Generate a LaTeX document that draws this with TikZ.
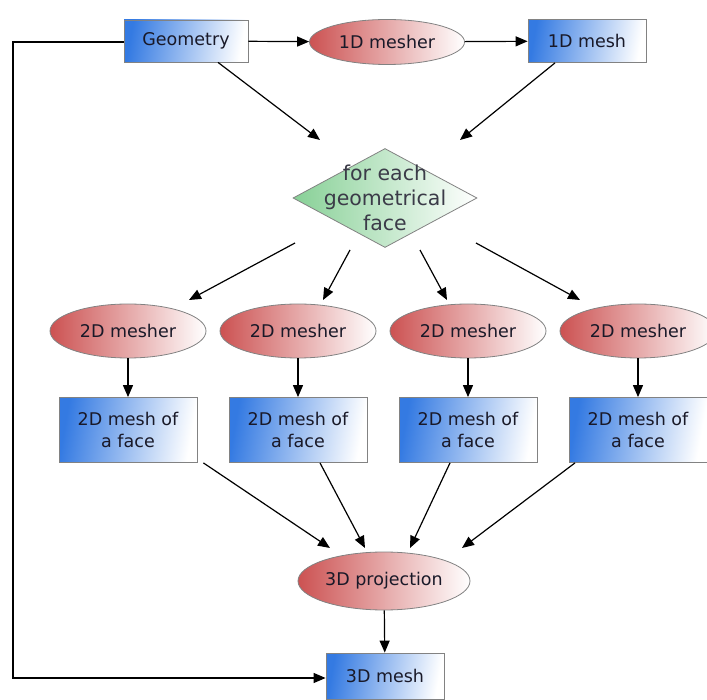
\documentclass[tikz,border=0pt]{standalone}
\usepackage{fontspec}
\setmainfont{DejaVu Sans}
\usetikzlibrary{shapes.geometric,arrows.meta}
\definecolor{boxblue}{RGB}{52,122,226}
\definecolor{ovalred}{RGB}{204,82,82}
\definecolor{diagreen}{RGB}{135,208,150}
\definecolor{edgegray}{RGB}{130,130,130}
\definecolor{ink}{RGB}{25,25,40}
\tikzset{
  databox/.style={rectangle, draw=edgegray, line width=0.8pt,
    left color=boxblue, right color=white, shading angle=80,
    text=ink, font=\fontsize{17.5}{22}\selectfont, align=center,
    inner sep=0pt},
  procoval/.style={ellipse, draw=edgegray, line width=0.8pt,
    left color=ovalred, right color=white,
    text=ink, font=\fontsize{17.5}{22}\selectfont, inner sep=0pt},
  loopbox/.style={diamond, draw=edgegray, line width=0.8pt,
    left color=diagreen, right color=white,
    inner sep=0pt, minimum width=184pt, minimum height=99pt, aspect=1.86},
  looptext/.style={text=ink!85, font=\fontsize{20.5}{25}\selectfont, align=center},
  flow/.style={line width=1.2pt, -{Triangle[length=12pt,width=10pt]}}
}
\begin{document}
\begin{tikzpicture}[x=1pt,y=-1pt]
\useasboundingbox (0,0) rectangle (707,700);

% top row
\node[databox, minimum width=124pt, minimum height=42pt] (geo) at (186,41) {Geometry};
\node[procoval, minimum width=155pt, minimum height=45pt] (m1d) at (387,42) {1D mesher};
\node[databox, minimum width=118pt, minimum height=43pt] (mesh1d) at (587,41) {1D mesh};

% per-face loop
\node[loopbox] (face) at (385,198) {};
\node[looptext] (facetxt) at (385,198) {for each\\geometrical\\face};

% 2D meshers and their results
\foreach \i/\x in {1/128,2/298,3/468,4/638}{
  \node[procoval, minimum width=156pt, minimum height=54pt] (m\i) at (\x,331) {2D mesher};
  \node[databox, minimum width=138pt, minimum height=65pt] (f\i) at (\x,430) {2D mesh of\\a face};
  \draw[flow] (m\i) -- (f\i);
}

% projection and final mesh
\node[procoval, minimum width=172pt, minimum height=58pt] (proj) at (384,581) {3D projection};
\node[databox, minimum width=118pt, minimum height=46pt] (mesh3d) at (385,676) {3D mesh};

% top row connectors
\draw[flow] (geo) -- (m1d);
\draw[flow] (m1d) -- (mesh1d);
\draw[flow] ([xshift=32pt]geo.south) -- ([shift={(-65,-58)}]face.center);
\draw[flow] ([xshift=-32pt]mesh1d.south) -- ([shift={(75,-58)}]face.center);

% loop fans out to the 2D meshers
\draw[flow] ([shift={(-90,45)}]face.center) -- ([shift={(61,-31)}]m1.center);
\draw[flow] ([shift={(-35,52)}]face.center) -- ([shift={(25,-31)}]m2.center);
\draw[flow] ([shift={(35,52)}]face.center) -- ([shift={(-21,-31)}]m3.center);
\draw[flow] ([shift={(91,45)}]face.center) -- ([shift={(-58,-31)}]m4.center);

% face meshes gathered by the projection
\draw[flow] ([xshift=6pt]f1.south east) -- ([shift={(-54,-33)}]proj.center);
\draw[flow] ([xshift=22pt]f2.south) -- ([shift={(-19,-33)}]proj.center);
\draw[flow] ([xshift=-18pt]f3.south) -- ([shift={(26,-33)}]proj.center);
\draw[flow] ([xshift=-63pt]f4.south) -- ([shift={(78,-33)}]proj.center);

\draw[flow] (proj) -- (mesh3d);

% geometry also feeds the final mesh directly
\coordinate (tl) at (13,42);
\coordinate (bl) at (13,678);
\draw[flow] (geo.west |- tl) -- (tl) -- (bl) -- (mesh3d.west |- bl);
\end{tikzpicture}
\end{document}
